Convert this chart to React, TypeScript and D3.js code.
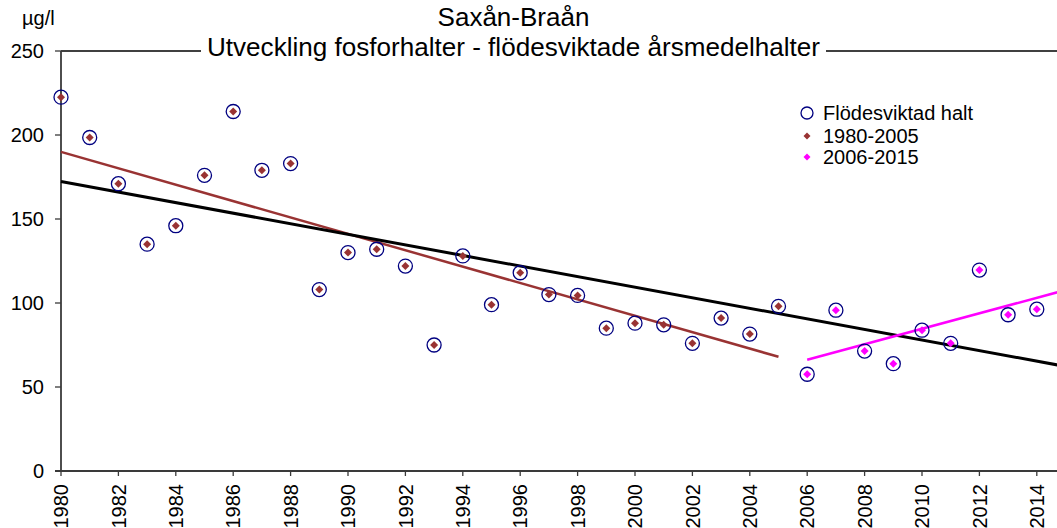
import React from "react";
import * as d3 from "d3";

const years = [1980,1981,1982,1983,1984,1985,1986,1987,1988,1989,1990,1991,1992,1993,1994,1995,1996,1997,1998,1999,2000,2001,2002,2003,2004,2005,2006,2007,2008,2009,2010,2011,2012,2013,2014,2015];
const values = [222.5,198.5,171,135,146,176,214,179,183,108,130,132,122,75,128,99,118,105,104.5,85,88,87,76,91,81.5,98,57.6,95.7,71.4,63.9,83.8,76,119.6,93,96.3,112];
const yTicks = [0, 50, 100, 150, 200, 250];
const xTicks = [1980,1982,1984,1986,1988,1990,1992,1994,1996,1998,2000,2002,2004,2006,2008,2010,2012,2014];
const title = "Saxån-Braån";
const subtitle = "Utveckling fosforhalter - flödesviktade årsmedelhalter";
const yLabel = "µg/l";
const legendLabels = ["Flödesviktad halt", "1980-2005", "2006-2015"];
const period1 = [1980, 2005];
const period2 = [2006, 2015];
const fullPeriod = [1980, 2015];

const BROWN = "#993333";
const MAGENTA = "#ff00ff";
const NAVY = "#000080";
const FONT = "'Liberation Sans', Arial, sans-serif";

function linreg(xs: number[], ys: number[]) {
  const mx = d3.mean(xs)!;
  const my = d3.mean(ys)!;
  let sxy = 0, sxx = 0;
  xs.forEach((x, i) => { sxy += (x - mx) * (ys[i] - my); sxx += (x - mx) * (x - mx); });
  const b = sxy / sxx;
  const a = my - b * mx;
  return (x: number) => a + b * x;
}

export default function App() {
  const x = d3.scaleLinear().domain([1980, 2015]).range([61, 61 + 35 * 28.7]);
  const y = d3.scaleLinear().domain([0, 250]).range([471, 51]);

  const pts = years.map((yr, i) => ({ yr, v: values[i] }));
  const p1 = pts.filter(p => p.yr >= period1[0] && p.yr <= period1[1]);
  const p2 = pts.filter(p => p.yr >= period2[0] && p.yr <= period2[1]);

  const fAll = linreg(pts.map(p => p.yr), pts.map(p => p.v));
  const f1 = linreg(p1.map(p => p.yr), p1.map(p => p.v));
  const f2 = linreg(p2.map(p => p.yr), p2.map(p => p.v));

  const line = d3.line<number[]>().x(d => x(d[0])).y(d => y(d[1]));
  const seg = (f: (v: number) => number, r: number[]) => line([[r[0], f(r[0])], [r[1], f(r[1])]]) || "";

  const diamond = (cx: number, cy: number, s: number) =>
    `M${cx},${cy - s}L${cx + s},${cy}L${cx},${cy + s}L${cx - s},${cy}Z`;

  const axisColor = "#3a3a3a";

  return (
    <svg width={1057} height={528} style={{ position: "absolute", left: 0, top: 0, background: "#fff" }} fontFamily={FONT}>
      <rect x={0} y={0} width={1057} height={528} fill="#fff" />
      {/* top border */}
      <line x1={61} x2={1057} y1={y(250)} y2={y(250)} stroke="#000" strokeWidth={1.3} />
      {/* axes */}
      <line x1={61} x2={61} y1={y(250)} y2={y(0)} stroke={axisColor} strokeWidth={1.8} />
      <line x1={55} x2={1057} y1={y(0)} y2={y(0)} stroke={axisColor} strokeWidth={2} />
      {yTicks.map(t => (
        <g key={"yt" + t}>
          <line x1={55} x2={61} y1={y(t)} y2={y(t)} stroke={axisColor} strokeWidth={1.3} />
          <text x={44} y={y(t)} dy="0.36em" textAnchor="end" fontSize={20} fill="#000">{t}</text>
        </g>
      ))}
      {xTicks.map(t => (
        <g key={"xt" + t}>
          <line x1={x(t)} x2={x(t)} y1={y(0)} y2={y(0) + 5} stroke={axisColor} strokeWidth={1.3} />
          <text transform={`translate(${x(t)},484) rotate(-90)`} dy="0.36em" textAnchor="end" fontSize={20} fill="#000">{t}</text>
        </g>
      ))}
      <text x={22} y={25} fontSize={20} fill="#000">{yLabel}</text>

      {/* trend lines */}
      <path d={seg(f1, period1)} stroke={BROWN} strokeWidth={2.5} fill="none" />
      <path d={seg(fAll, fullPeriod)} stroke="#000" strokeWidth={3} fill="none" />
      <path d={seg(f2, period2)} stroke={MAGENTA} strokeWidth={2.5} fill="none" />

      {/* markers */}
      {pts.map(p => (
        <circle key={"c" + p.yr} cx={x(p.yr)} cy={y(p.v)} r={7} fill="none" stroke={NAVY} strokeWidth={1.3} />
      ))}
      {p1.map(p => (
        <path key={"d1" + p.yr} d={diamond(x(p.yr), y(p.v), 4)} fill={BROWN} />
      ))}
      {p2.map(p => (
        <path key={"d2" + p.yr} d={diamond(x(p.yr), y(p.v), 4)} fill={MAGENTA} />
      ))}

      {/* titles */}
      <rect x={201} y={36} width={625} height={26} fill="#fff" />
      <text x={513.5} y={26} textAnchor="middle" fontSize={26} fill="#000">{title}</text>
      <text x={513.5} y={56} textAnchor="middle" fontSize={25.5} textLength={613} lengthAdjust="spacingAndGlyphs" fill="#000">{subtitle}</text>

      {/* legend */}
      <circle cx={807} cy={113} r={6} fill="none" stroke={NAVY} strokeWidth={1.3} />
      <path d={diamond(807, 136, 3.5)} fill={BROWN} />
      <path d={diamond(807, 157, 3.5)} fill={MAGENTA} />
      {legendLabels.map((l, i) => (
        <text key={l} x={823} y={[113, 136, 157][i]} dy="0.36em" fontSize={20} fill="#000">{l}</text>
      ))}
    </svg>
  );
}
